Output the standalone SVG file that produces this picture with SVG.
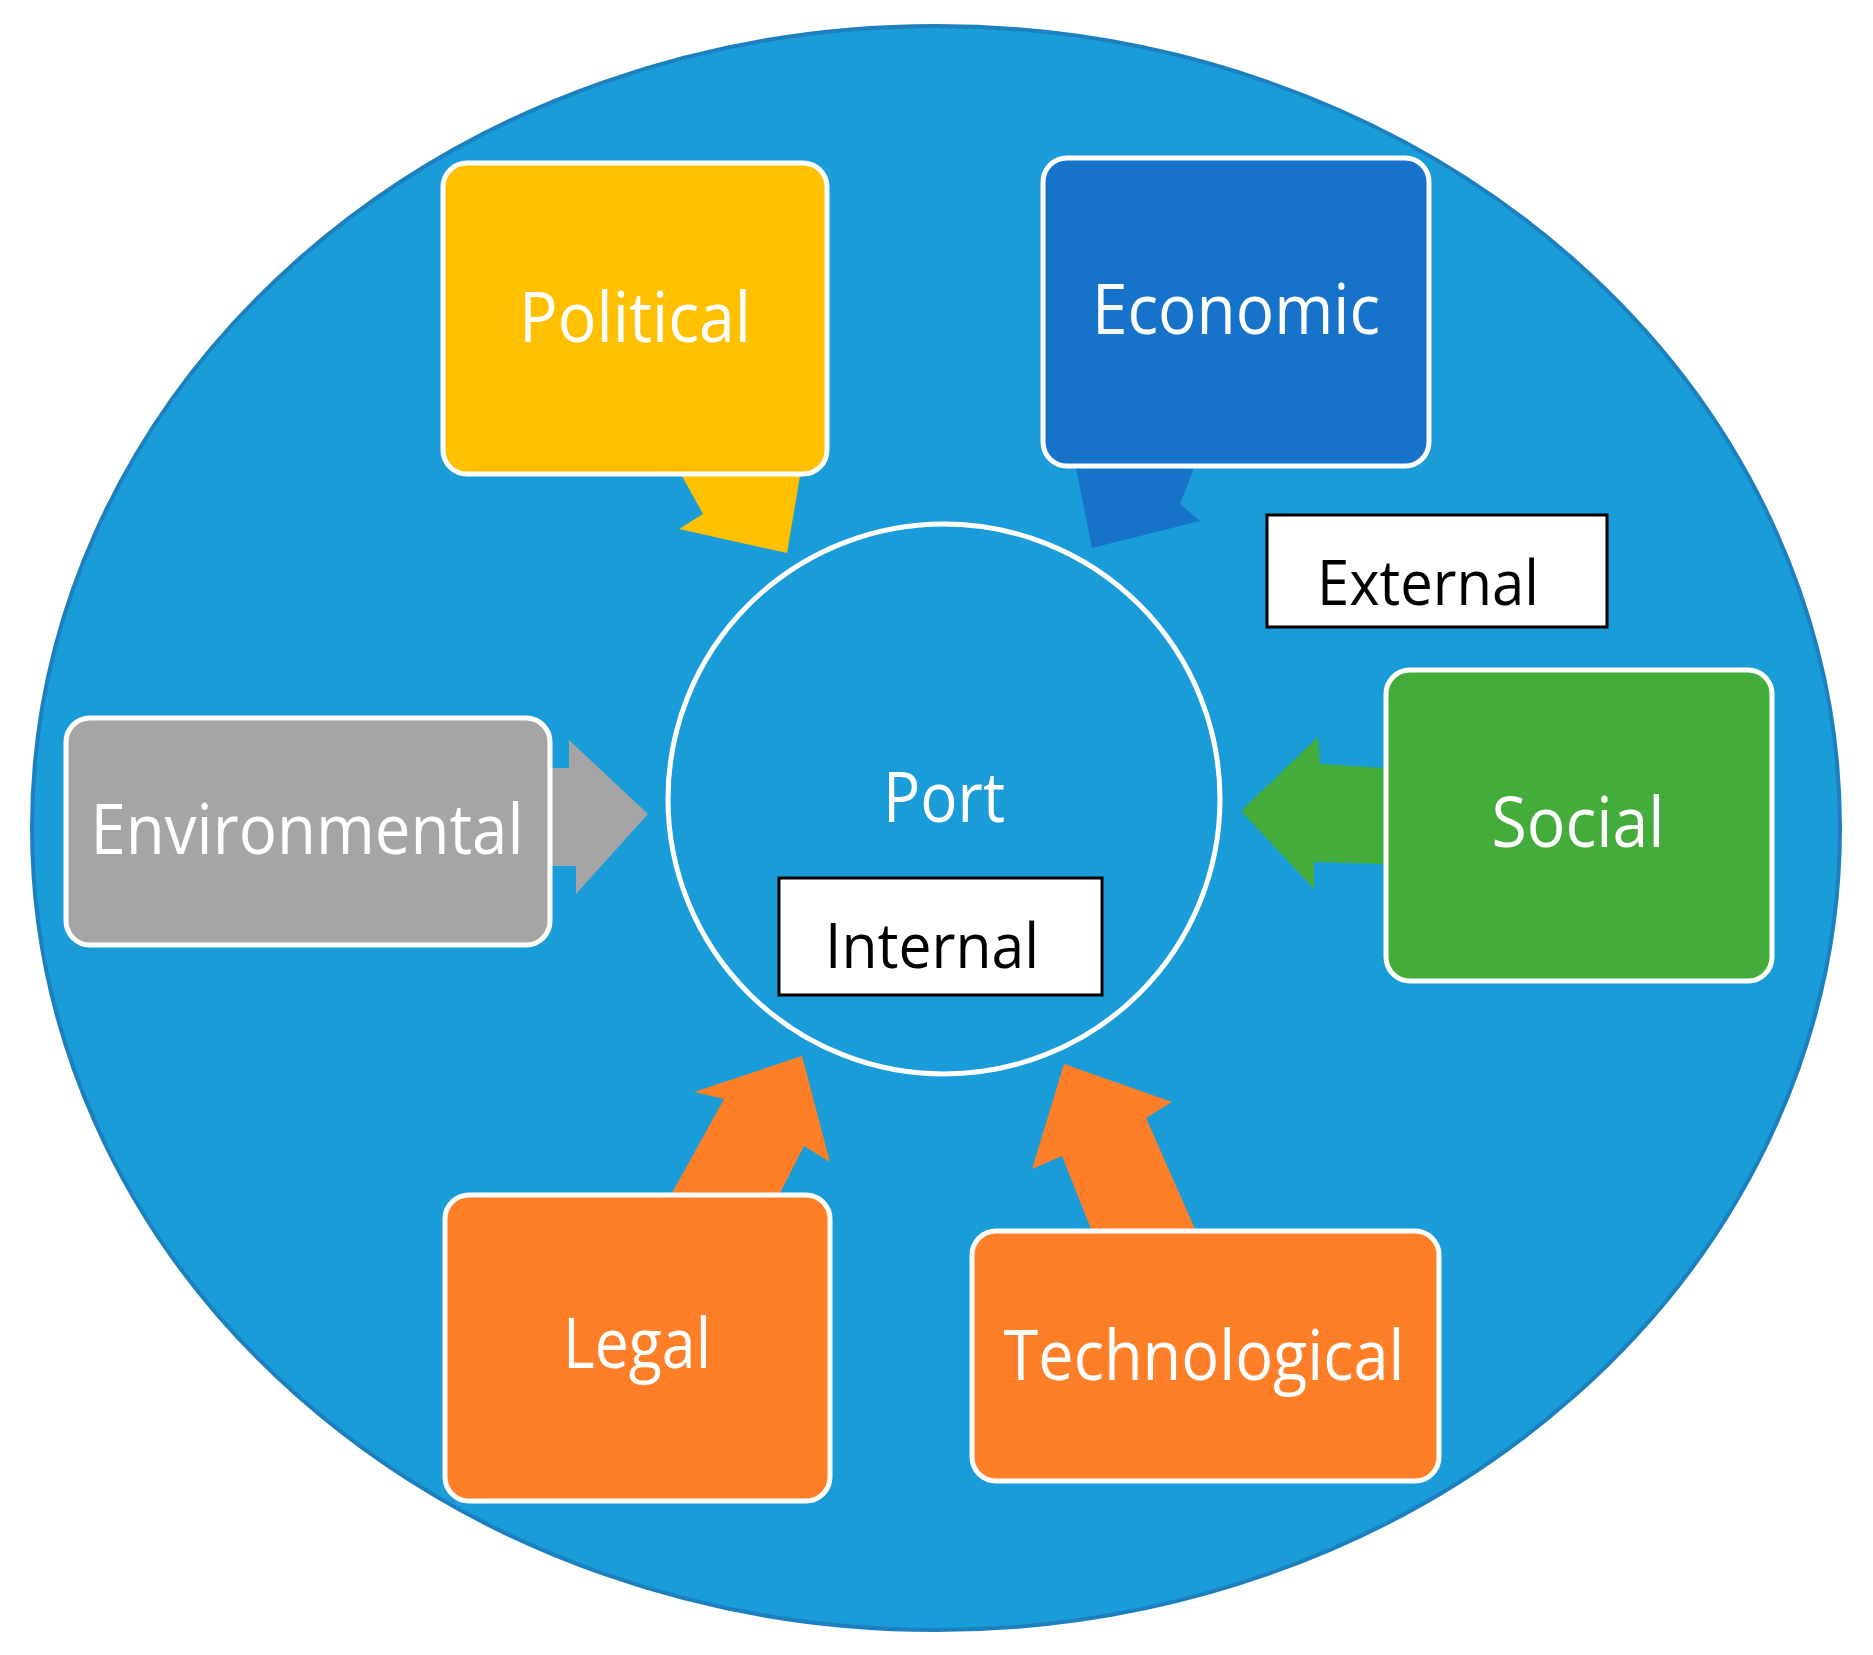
<svg xmlns="http://www.w3.org/2000/svg" width="1873" height="1655" viewBox="0 0 1873 1655">
<style>
.box{stroke:#fff;stroke-width:5}
.w{fill:#fff;font-family:"Open Sans","Liberation Sans",sans-serif;font-size:70px;text-anchor:middle}
.k{fill:#000;font-family:"Open Sans","Liberation Sans",sans-serif;font-size:62px;text-anchor:middle}
.lbl{fill:#fff;stroke:#000;stroke-width:3}
</style>
<rect width="1873" height="1655" fill="#fff"/>
<g id="background"><ellipse cx="936" cy="828" rx="904" ry="802" fill="#199CD8" stroke="#1B80BD" stroke-width="4"/></g>
<g id="connectors">
<polygon points="682,476 800,476 787,553 679,529 703,514" fill="#FFC000"/>
<polygon points="1076,468 1194,468 1180,504 1200,521 1092,548" fill="#1773C9"/>
<polygon points="552,768 569,768 569,740 648,814 576,894 576,866 552,866" fill="#A5A5A5"/>
<polygon points="1384,768 1320,764 1318,737 1241,811 1314,889 1314,862 1384,864" fill="#43AC3A"/>
<polygon points="672,1193 780,1193 804,1146 830,1162 802,1056 694,1092 724,1099" fill="#FE7F27"/>
<polygon points="1091,1229 1195,1229 1146,1118 1172,1102 1064,1064 1032,1169 1062,1156" fill="#FE7F27"/>
</g>
<g id="port"><ellipse cx="944" cy="799" rx="276" ry="275" fill="#199CD8" stroke="#fff" stroke-width="5"/>
<text class="w" x="944" y="822" textLength="122" lengthAdjust="spacingAndGlyphs">Port</text></g>
<g id="political"><rect class="box" x="443" y="163" width="384" height="311" rx="24" fill="#FFC000"/>
<text class="w" x="635" y="342" textLength="232" lengthAdjust="spacingAndGlyphs">Political</text></g>
<g id="economic"><rect class="box" x="1043" y="158" width="386" height="308" rx="24" fill="#1773C9"/>
<text class="w" x="1236" y="334" textLength="288" lengthAdjust="spacingAndGlyphs">Economic</text></g>
<g id="environmental"><rect class="box" x="66" y="718" width="484" height="227" rx="24" fill="#A5A5A5"/>
<text class="w" x="307" y="854" textLength="433" lengthAdjust="spacingAndGlyphs">Environmental</text></g>
<g id="social"><rect class="box" x="1386" y="670" width="386" height="311" rx="24" fill="#43AC3A"/>
<text class="w" x="1578" y="847" textLength="173" lengthAdjust="spacingAndGlyphs">Social</text></g>
<g id="legal"><rect class="box" x="445" y="1195" width="385" height="306" rx="24" fill="#FE7F27"/>
<text class="w" x="637" y="1368" textLength="148" lengthAdjust="spacingAndGlyphs">Legal</text></g>
<g id="technological"><rect class="box" x="972" y="1231" width="467" height="250" rx="24" fill="#FE7F27"/>
<text class="w" x="1204" y="1380" textLength="401" lengthAdjust="spacingAndGlyphs">Technological</text></g>
<g id="external"><rect class="lbl" x="1267" y="515" width="340" height="112"/>
<text class="k" x="1428" y="605" textLength="222" lengthAdjust="spacingAndGlyphs">External</text></g>
<g id="internal"><rect class="lbl" x="779" y="878" width="323" height="117"/>
<text class="k" x="932" y="968" textLength="214" lengthAdjust="spacingAndGlyphs">Internal</text></g>
</svg>
